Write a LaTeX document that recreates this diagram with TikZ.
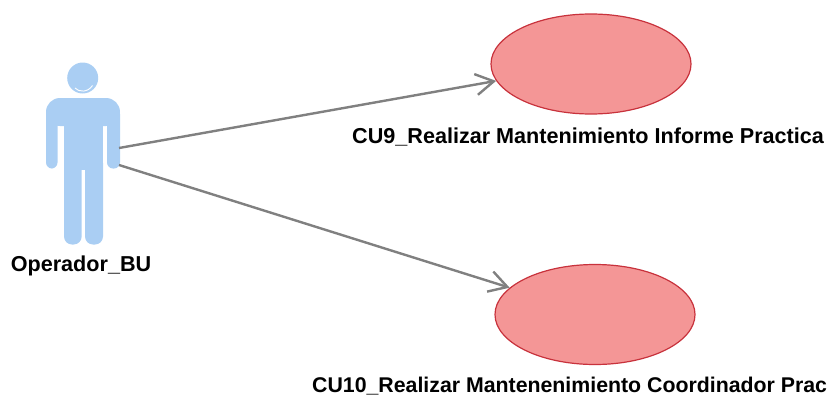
\documentclass[tikz,border=0pt]{standalone}
\usepackage{fontspec}
\setmainfont{Liberation Sans}
\usetikzlibrary{arrows.meta,shapes.geometric}
\definecolor{actorblue}{RGB}{170,206,243}
\definecolor{ucfill}{RGB}{244,150,150}
\definecolor{ucline}{RGB}{200,50,60}
\definecolor{linkgray}{RGB}{128,128,128}
\tikzset{
  usecase/.style={ellipse,draw=ucline,fill=ucfill,line width=1.2pt,minimum width=200pt,minimum height=100pt,inner sep=0pt},
  lbl/.style={font=\fontsize{21.6pt}{24pt}\selectfont\bfseries,inner sep=0pt,text=black},
  lblcut/.style={font=\fontsize{21.3pt}{24pt}\selectfont\bfseries,inner sep=0pt,text=black},
  link/.style={draw=linkgray,line width=2.4pt,-{Straight Barb[length=18pt,width=21pt,line width=2.4pt]}},
  actorpart/.style={fill=actorblue,draw=none}
}
\begin{document}
\begin{tikzpicture}[x=1pt,y=-1pt]
\useasboundingbox (0,0) rectangle (830,399);
% actor
\fill[actorpart] (82.7,78) circle (15.5);
\draw[white,line width=0.9pt] (75,88) .. controls (79,92.5) and (88,92.5) .. (92.5,85.5);
\fill[actorpart,rounded corners=14pt] (46,126) rectangle (120,98);
\fill[actorpart,rounded corners=6pt] (46,108) rectangle (57.5,168.5);
\fill[actorpart,rounded corners=6pt] (107,108) rectangle (120,168.5);
\fill[actorpart] (64,112) rectangle (103,170);
\fill[actorpart,rounded corners=8pt] (64,155) rectangle (81.7,244.5);
\fill[actorpart,rounded corners=8pt] (85,155) rectangle (103,244.5);
\coordinate (actorup) at (119,148);
\coordinate (actordown) at (119,165);
% use cases
\node[usecase] (cunine) at (591,64) {};
\node[usecase] (cuten) at (595,314.5) {};
% labels
\node[lbl,anchor=center] (actorlabel) at (81,266) {Operador\_BU};
\node[lbl,anchor=west] (cuninelabel) at (352,137) {CU9\_Realizar Mantenimiento Informe Practica};
\node[lblcut,anchor=west] (cutenlabel) at (312,386) {CU10\_Realizar Mantenenimiento Coordinador Prac};
% connectors
\draw[link] (actorup) -- (cunine);
\draw[link] (actordown) -- (cuten);
\end{tikzpicture}
\end{document}
